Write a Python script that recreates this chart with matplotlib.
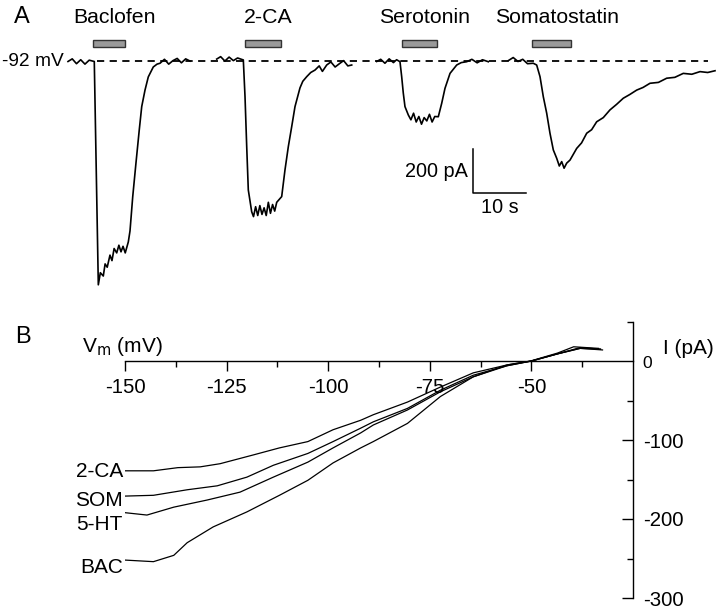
import matplotlib
matplotlib.use('Agg')
import matplotlib.pyplot as plt
from matplotlib.patches import Rectangle

plt.rcParams['font.family'] = ['Liberation Sans', 'DejaVu Sans']

bac_t = [0, 0.8, 1.6, 2.4, 3.2, 4.0, 4.96, 5.72, 6.1, 6.66, 7.0, 7.4, 7.92, 8.3, 8.7, 9.19, 9.6, 10.0, 10.38, 10.8,
         11.38, 11.70, 12.21, 12.83, 13.45, 13.91, 14.53, 15.15, 16.09, 16.8, 17.36, 18.2, 19.0, 19.81, 20.6, 21.4, 22.2, 23.02]
bac_i = [0, 12, -10, 8, -12, 6, 0, -1015, -960, -975, -920, -935, -880, -905, -850, -870, -835, -865, -840, -870,
         -820, -770, -615, -460, -310, -205, -130, -70, -25, -12, -8, 10, -12, 4, 14, -6, 12, 2]

ca_t = [28.06, 28.8, 29.6, 30.4, 31.2, 32.0, 33.08, 33.40, 33.72, 34.02, 34.66, 35.0, 35.4, 35.8, 36.2, 36.6, 37.0, 37.4,
        37.8, 38.2, 38.6, 39.0, 39.38, 40.32, 40.94, 41.57, 42.21, 42.83, 43.77, 44.3, 45.04, 45.8, 46.60, 47.4, 48.0,
        48.81, 49.6, 50.4, 51.32, 52.0, 52.8, 53.53]
ca_i = [11, 22, 2, 20, 4, 16, 7, -160, -387, -584, -683, -705, -660, -700, -655, -695, -665, -700, -640, -690, -650,
        -680, -640, -614, -493, -387, -296, -205, -120, -90, -69, -50, -39, -20, -45, -16, -2, -25, -8, 4, -20, -16]

ser_t = [58.25, 59.0, 59.8, 60.6, 61.4, 62.0, 62.64, 62.96, 63.26, 63.58, 64.21, 64.7, 65.2, 65.7, 66.2, 66.7, 67.2,
         67.7, 68.2, 68.7, 69.2, 69.87, 70.51, 71.13, 72.08, 73.34, 74.2, 75.23, 76.2, 77.2, 78.2, 79.30]
ser_i = [0, 10, -8, 12, -5, 8, -1, -69, -143, -205, -243, -265, -235, -275, -250, -285, -255, -270, -240, -275,
         -250, -251, -190, -122, -54, -16, -5, -1, 10, -6, 8, -1]

som_t = [83.08, 84.0, 84.9, 85.8, 86.7, 87.79, 88.43, 89.06, 89.68, 90.32, 90.94, 91.57, 92.21, 92.7, 93.15, 93.6,
         94.09, 94.72, 95.98, 96.9, 97.87, 98.8, 99.75, 101.0, 102.26, 103.5, 104.77, 106.0, 107.30, 108.5, 109.81,
         111.4, 112.96, 114.5, 116.09, 117.7, 119.25, 120.7, 122.08]
som_i = [4, 18, 0, 10, -10, -8, -16, -69, -160, -235, -326, -402, -440, -475, -455, -485, -462, -448, -395, -370,
         -326, -310, -274, -255, -220, -195, -167, -150, -130, -118, -99, -95, -76, -72, -54, -58, -46, -50, -42]

farmacos = ['Baclofen', '2-CA', 'Serotonin', 'Somatostatin']
barra_ini = [4.72, 33.4, 63.0, 87.5]
barra_fin = [10.75, 40.2, 69.6, 94.9]

# --- datos panel B: curvas I-V ---
iv_v_ca = [-150, -143, -137, -131.5, -126.6, -118.5, -112, -105, -98.8, -92, -88.9, -80.5, -72.4, -64.3, -56, -50.2, -43.6, -39.6, -33.5]
iv_i_ca = [-139, -139, -135, -134, -130, -119, -110, -102, -87, -75, -68, -52, -33, -15, -5, 0, 10, 18, 16]

iv_v_som = [-150, -143, -134.7, -127.3, -120, -113.5, -105, -98.8, -92, -88.9, -80.5, -72.4, -64.3, -56, -50, -43.6, -38, -33]
iv_i_som = [-171, -170, -163, -158, -147, -132, -117, -102, -85, -77, -60, -37, -18, -6, 0, 9, 17, 15]

iv_v_ht = [-150, -144.6, -138, -129.8, -121.7, -113.5, -105, -98.8, -92, -88.9, -80.5, -72.4, -64.3, -56, -50, -43.6, -38, -32.5]
iv_i_ht = [-192, -195, -185, -176, -166, -147, -128, -110, -91, -81, -62, -39, -20, -6, 0, 9, 16, 14]

iv_v_bac = [-150, -143, -138, -134.7, -128.3, -120, -112, -105, -98.8, -92, -88.9, -80.5, -72.4, -64.3, -56, -50, -43.6, -38, -33]
iv_i_bac = [-252, -254, -246, -230, -210, -191, -170, -151, -129, -110, -102, -79, -45, -20, -5, 0, 9, 16, 15]

etiquetas_iv = ['2-CA', 'SOM', '5-HT', 'BAC']

fig = plt.figure(figsize=(7.2, 6.08), dpi=100)

# --- PANEL A ---
axA = fig.add_axes([0, 1 - 300 / 608, 1, 300 / 608])
axA.set_xlim(-12.83, 123.02)
axA.set_ylim(-1084, 279.5)
axA.axis('off')

for t, i in [(bac_t, bac_i), (ca_t, ca_i), (ser_t, ser_i), (som_t, som_i)]:
    axA.plot(t, i, color='black', lw=1.2)

axA.plot([5.5, 120.8], [0, 0], color='black', lw=1.3, ls=(0, (4, 3)))

for nombre, a, b in zip(farmacos, barra_ini, barra_fin):
    axA.add_patch(Rectangle((a, 66), b - a, 32, facecolor='#9a9a9a', edgecolor='#333333', lw=1.0))
    axA.text((a + b) / 2 + 1.0, 175, nombre, ha='center', va='baseline', fontsize=15.3)

axA.text(-12.4, 0, '-92 mV', ha='left', va='center', fontsize=13.8)
axA.text(-8.7, 200, 'A', ha='center', va='center', fontsize=17)

# barra de escala
axA.plot([76.4, 76.4, 86.4], [-398, -598, -598], color='black', lw=1.1)
axA.text(75.4, -525, '200 pA', ha='right', va='baseline', fontsize=14.3)
axA.text(81.4, -688, '10 s', ha='center', va='baseline', fontsize=14.3)

# --- PANEL B ---
axB = fig.add_axes([125 / 720, 1 - 598 / 608, 508 / 720, 276.5 / 608])
axB.set_xlim(-150, -25)
axB.set_ylim(-300, 50)

series = [(iv_v_ca, iv_i_ca), (iv_v_som, iv_i_som), (iv_v_ht, iv_i_ht), (iv_v_bac, iv_i_bac)]
for v, i in series:
    axB.plot(v, i, color='black', lw=0.9)

axB.spines['top'].set_visible(False)
axB.spines['left'].set_visible(False)
axB.spines['bottom'].set_position(('data', 0))
axB.spines['bottom'].set_bounds(-150, -25)
for s in ['bottom', 'right']:
    axB.spines[s].set_linewidth(1.0)

axB.set_xticks([-150, -125, -100, -75, -50])
axB.set_xticklabels(['-150', '-125', '-100', '-75', '-50'])
axB.set_xticks([-137.5, -112.5, -87.5, -62.5, -37.5], minor=True)
axB.tick_params(axis='x', which='major', direction='out', length=7, width=1, pad=5, labelsize=14.7)
axB.tick_params(axis='x', which='minor', direction='out', length=4, width=1)

axB.yaxis.tick_right()
axB.set_yticks([-300, -200, -100])
axB.set_yticklabels(['-300', '-200', '-100'])
axB.set_yticks([-250, -150, -50, 50], minor=True)
axB.tick_params(axis='y', which='major', direction='in', length=8, width=1, pad=7, labelsize=14.7)
axB.tick_params(axis='y', which='minor', direction='in', length=4.5, width=1)

axB.text(-22.8, -3, '0', ha='left', va='center', fontsize=12.5)
axB.text(-17.6, 16, 'I (pA)', ha='left', va='center', fontsize=15)
axB.text(-160.6, 11, 'V$_\\mathrm{m}$ (mV)', ha='left', va='baseline', fontsize=15)

pos_y = [-140, -176, -207, -262]
for etiqueta, y in zip(etiquetas_iv, pos_y):
    axB.text(-150.5, y, etiqueta, ha='right', va='center', fontsize=15)

fig.text(23 / 720, 1 - 337 / 608, 'B', ha='center', va='center', fontsize=17)

fig.savefig('out.png', dpi=100)
